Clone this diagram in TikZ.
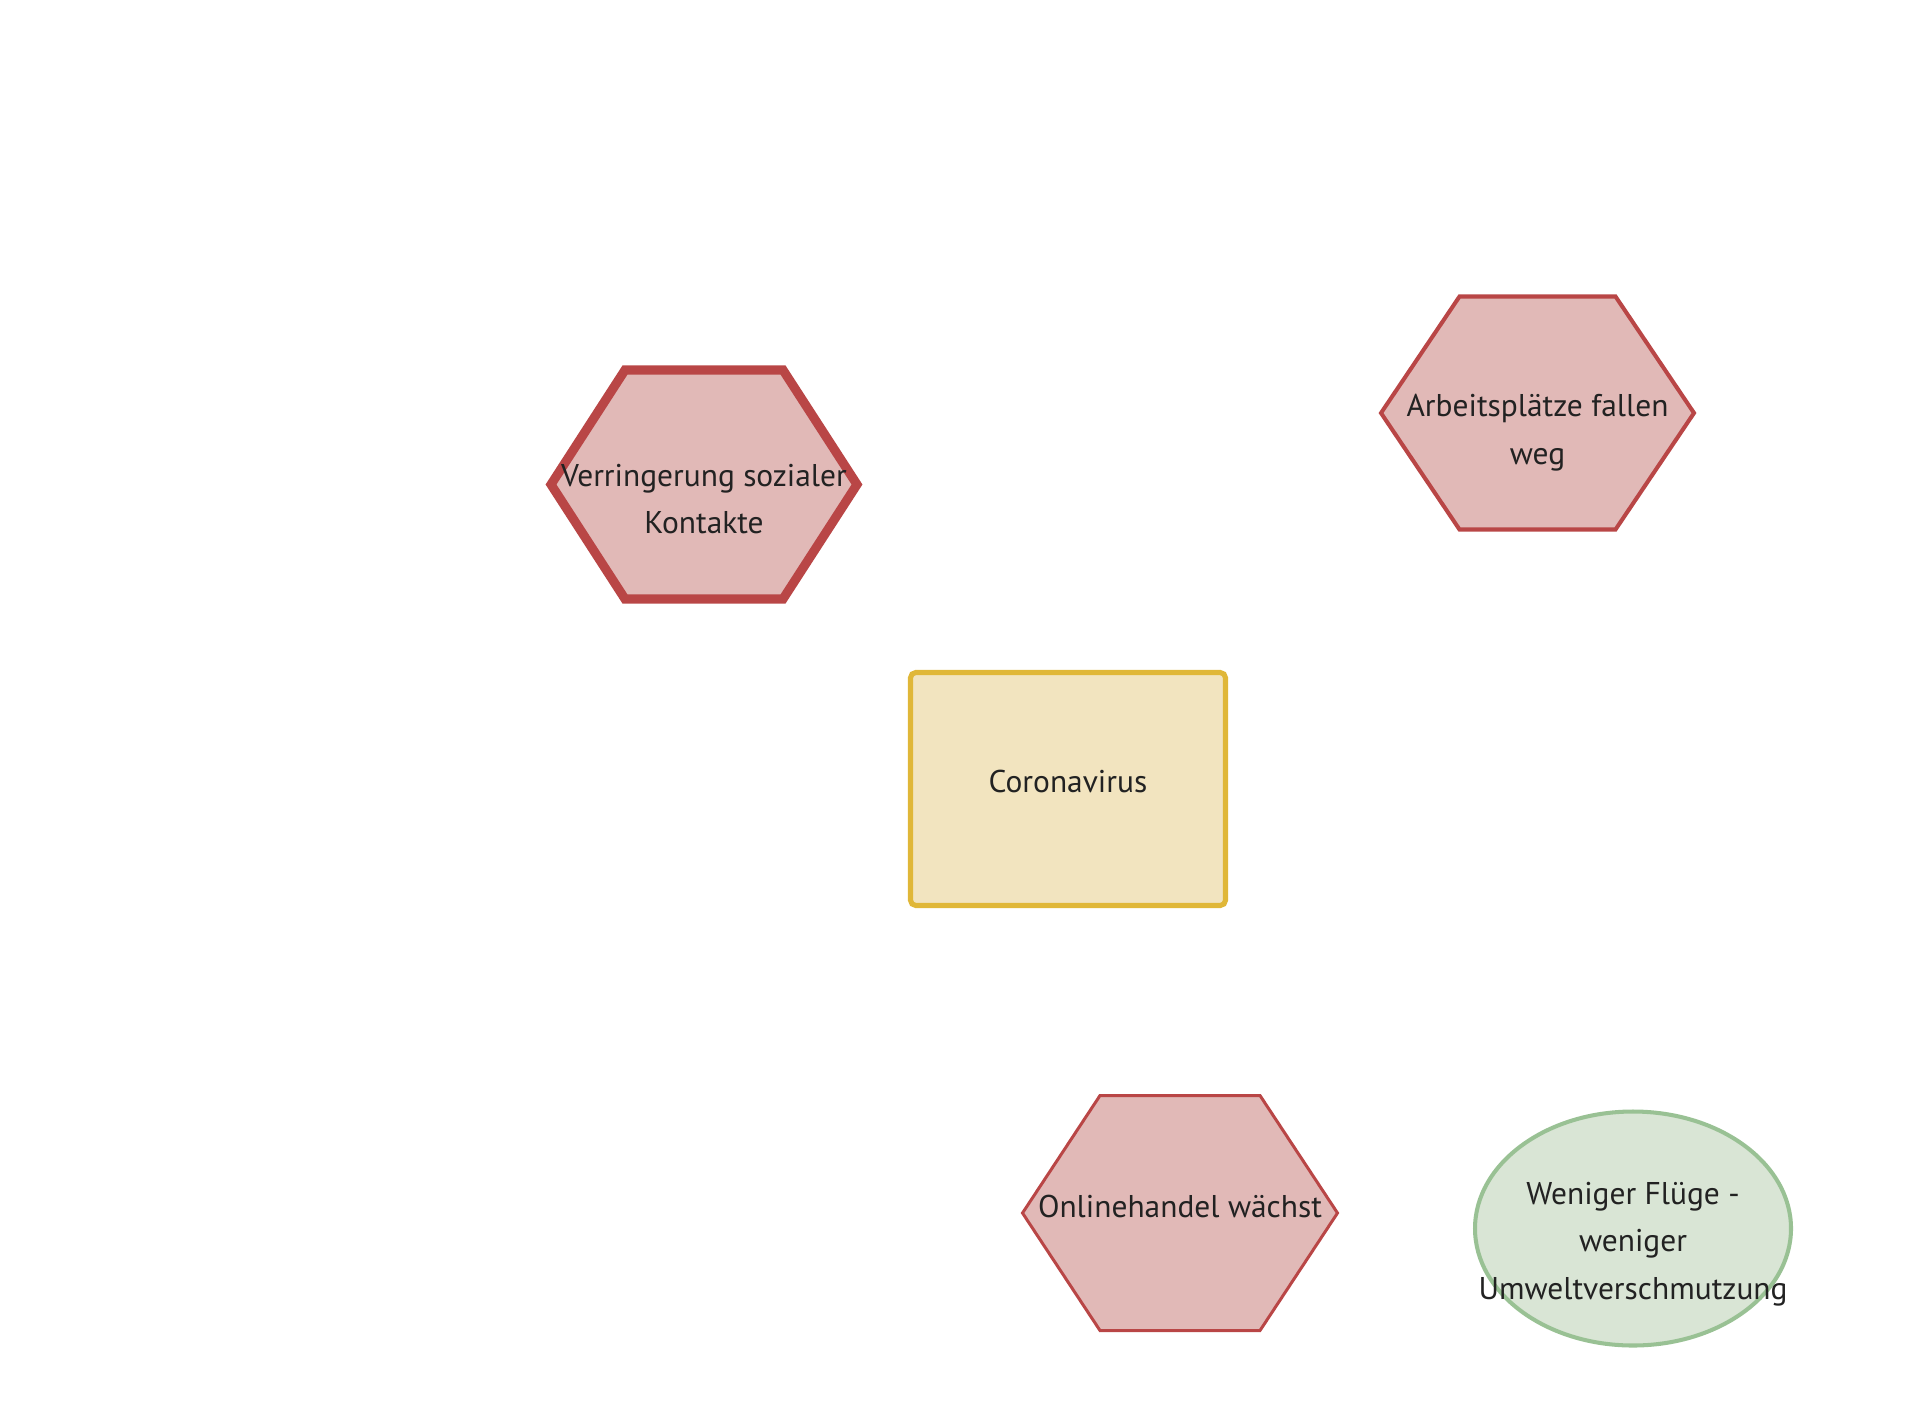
\documentclass[tikz,border=0pt]{standalone}
\usepackage{fontspec}
\setmainfont{PT Sans}
\usetikzlibrary{shapes.geometric}
\definecolor{hexfill}{HTML}{E1B9B7}
\definecolor{hexline}{HTML}{B94646}
\definecolor{boxfill}{HTML}{F2E4BF}
\definecolor{boxline}{HTML}{E0B738}
\definecolor{ovalfill}{HTML}{D9E5D5}
\definecolor{ovalline}{HTML}{99C194}
\definecolor{txt}{HTML}{222222}
% one unit = one pixel of a 1910 x 1400 canvas
\tikzset{
  x=0.02cm, y=-0.02cm,
  label/.style={text=txt, font=\fontsize{17.9}{27.2}\selectfont, align=center, inner sep=0pt},
  hexshape/.style={fill=hexfill, draw=hexline, line join=miter},
}
% flat-top hexagon: centre (x,y), half width, half height, half length of top edge
\newcommand{\hexpath}[6][]{%
  \draw[hexshape,#1] (#2-#4,#3) -- (#2-#6,#3-#5) -- (#2+#6,#3-#5) -- (#2+#4,#3)
    -- (#2+#6,#3+#5) -- (#2-#6,#3+#5) -- cycle;}
\begin{document}
\begin{tikzpicture}
\useasboundingbox (0,0) rectangle (1910,1400);

% social contacts
\hexpath[line width=5.2pt]{704}{484.5}{153}{114.5}{79}
\node[label] (kontakte) at (704,499) {Verringerung sozialer\\Kontakte};

% jobs
\hexpath[line width=2.3pt]{1537.5}{413}{156.5}{116.5}{78}
\node[label] (arbeit) at (1537.5,433) {Arbeitsplätze fallen\\weg};

% central cause
\draw[fill=boxfill, draw=boxline, line width=2.9pt, rounded corners=3pt]
  (910.5,672.5) rectangle (1225.5,905.5);
\node[label] (corona) at (1068,781) {Coronavirus};

% online trade
\hexpath[line width=1.7pt]{1180}{1213}{157.5}{117.5}{80}
\node[label] (online) at (1180,1206) {Onlinehandel wächst};

% fewer flights
\draw[fill=ovalfill, draw=ovalline, line width=2.3pt] (1633,1228.5) ellipse [x radius=158, y radius=117];
\node[label] (fluege) at (1633,1244) {Weniger Flüge -\\weniger\\Umweltverschmutzung};
\end{tikzpicture}
\end{document}
